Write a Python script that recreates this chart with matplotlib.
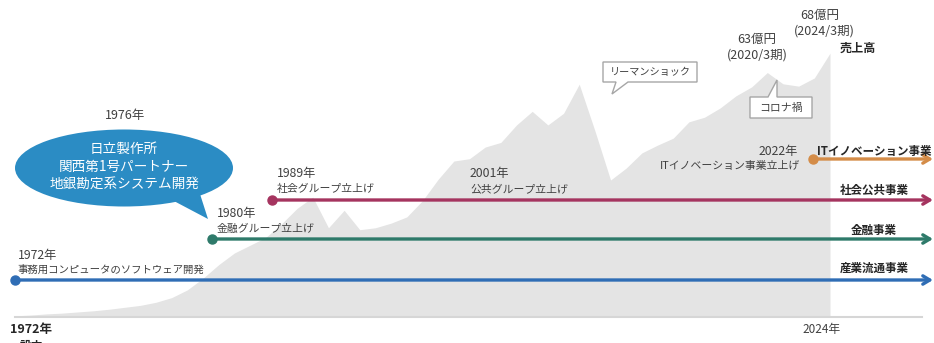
import numpy as np
import matplotlib
matplotlib.use("Agg")
import matplotlib.pyplot as plt
from matplotlib.patches import Ellipse, Polygon

plt.rcParams['font.family'] = ['Noto Sans CJK JP', 'DejaVu Sans']

# 売上高（億円）の推移
years = list(range(1972, 2025))
sales = [0.3, 0.5, 0.8, 1.0, 1.3, 1.6, 2.0, 2.5, 3.0, 3.8,
         5.0, 7.0, 10.0, 13.5, 16.5, 18.5, 20.5, 24.0, 28.0, 30.9,
         23.0, 27.5, 22.5, 23.0, 24.2, 25.8, 30.0, 35.5, 40.2, 40.8,
         43.8, 45.0, 49.5, 53.0, 49.5, 52.5, 60.0, 48.0, 35.3, 38.4,
         42.3, 44.3, 46.1, 50.3, 51.5, 53.9, 57.0, 59.3, 63.0, 60.1,
         59.5, 61.6, 68.0]

# 事業ライン
lane_names = ["産業流通事業", "金融事業", "社会公共事業", "ITイノベーション事業"]
lane_start = [1972, 1984.6, 1988.4, 2022.9]
lane_colors = ["#2f6db5", "#2e7a6a", "#a5345f", "#d48c48"]
lane_year_txt = ["1972年", "1980年", "1989年", "2022年"]
lane_desc = ["事務用コンピュータのソフトウェア開発", "金融グループ立上げ",
             "社会グループ立上げ", "ITイノベーション事業立上げ"]

W, H = 934, 343
X0, PPY = 15, 15.673     # 1972年の位置, 1年あたりのpx
Y0, PPV = 317, 3.88      # 基準線, 1億円あたりのpx

def px(year):
    return X0 + (year - 1972) * PPY

fig = plt.figure(figsize=(W / 100, H / 100), dpi=100)

# 売上高の面グラフ
ax = fig.add_axes([0, 0, 1, 1])
ax.set_xlim(1972 - X0 / PPY, 1972 + (W - X0) / PPY)
ax.set_ylim(-(H - Y0) / PPV, Y0 / PPV)
ax.axis('off')
ax.fill_between(years, sales, 0, color="#e4e4e4", lw=0)

# 注記用のpx座標の軸
ov = fig.add_axes([0, 0, 1, 1])
ov.set_xlim(0, W)
ov.set_ylim(H, 0)
ov.axis('off')
ov.patch.set_alpha(0)

txt = "#404040"
ov.plot([X0, 922], [Y0, Y0], color="#d6d6d6", lw=1.5)

lane_y = [280, 239, 200, 159]
label_y = [268, 230, 190, 151]
for i in range(4):
    y = lane_y[i]
    c = lane_colors[i]
    x = px(lane_start[i])
    ov.annotate('', xy=(933, y), xytext=(x, y),
                arrowprops=dict(arrowstyle='->,head_length=0.5,head_width=0.3',
                                color=c, lw=2.4, shrinkA=0, shrinkB=0))
    ov.plot(x, y, 'o', ms=6.5, color=c)
    ov.text(874, label_y[i], lane_names[i], ha='center', va='center',
            fontsize=8.3, fontweight='bold', color="#262626")

yfs, dfs = 8.8, 7.8
ov.text(18, 255, lane_year_txt[0], fontsize=yfs, color=txt, va='center')
ov.text(18, 270, lane_desc[0], fontsize=7.5, color=txt, va='center')
ov.text(217, 214, lane_year_txt[1], fontsize=yfs, color=txt, va='center')
ov.text(217, 229, lane_desc[1], fontsize=dfs, color=txt, va='center')
ov.text(277, 174, lane_year_txt[2], fontsize=yfs, color=txt, va='center')
ov.text(277, 189, lane_desc[2], fontsize=dfs, color=txt, va='center')
ov.text(470, 174, "2001年", fontsize=yfs, color=txt, va='center')
ov.text(470, 189, "公共グループ立上げ", fontsize=dfs, color=txt, va='center')
ov.text(798, 151, lane_year_txt[3], fontsize=yfs, color=txt, va='center', ha='right')
ov.text(800, 166, lane_desc[3], fontsize=dfs, color=txt, va='center', ha='right')

# 吹き出し（1976年）
blue = "#2b8cc4"
ov.add_patch(Polygon([(172, 200), (208, 219), (200, 194)], closed=True, color=blue, lw=0))
ov.add_patch(Ellipse((124, 168), 218, 77, color=blue, lw=0))
ov.text(125, 115, "1976年", fontsize=9, color=txt, ha='center', va='center')
for yy, s in zip([149, 167, 184], ["日立製作所", "関西第1号パートナー", "地銀勘定系システム開発"]):
    ov.text(124, yy, s, fontsize=9.8, color="white", ha='center', va='center')

# リーマンショック / コロナ禍
box_ec = "#a6a6a6"
ov.add_patch(Polygon([(603, 62), (697, 62), (697, 82), (628, 82), (612, 94),
                      (616, 82), (603, 82)], closed=True, fc="white", ec=box_ec, lw=1))
ov.text(650, 72, "リーマンショック", fontsize=7.3, color=txt, ha='center', va='center')
ov.add_patch(Polygon([(750, 97), (768, 97), (777, 80), (777, 97), (812, 97),
                      (812, 118), (750, 118)], closed=True, fc="white", ec=box_ec, lw=1))
ov.text(781, 108, "コロナ禍", fontsize=7.8, color=txt, ha='center', va='center')

# 売上高の注記
ov.text(757, 39, "63億円", fontsize=9, color=txt, ha='center', va='center')
ov.text(757, 55, "(2020/3期)", fontsize=9, color=txt, ha='center', va='center')
ov.text(820, 15, "68億円", fontsize=9, color=txt, ha='center', va='center')
ov.text(824, 31, "(2024/3期)", fontsize=9, color=txt, ha='center', va='center')
ov.text(858, 48, "売上高", fontsize=8.7, fontweight='bold', color="#262626",
        ha='center', va='center')

# 年の目盛り
ov.text(822, 330, "2024年", fontsize=8.5, color=txt, ha='center', va='center')
ov.text(31, 330, "1972年", fontsize=9, fontweight='bold', color="#262626",
        ha='center', va='center')
# 設立（下端で切れている）
ov.text(31, 346, "設立", fontsize=8.5, fontweight='bold', color="#262626",
        ha='center', va='center')

fig.savefig("out.png", dpi=100)
